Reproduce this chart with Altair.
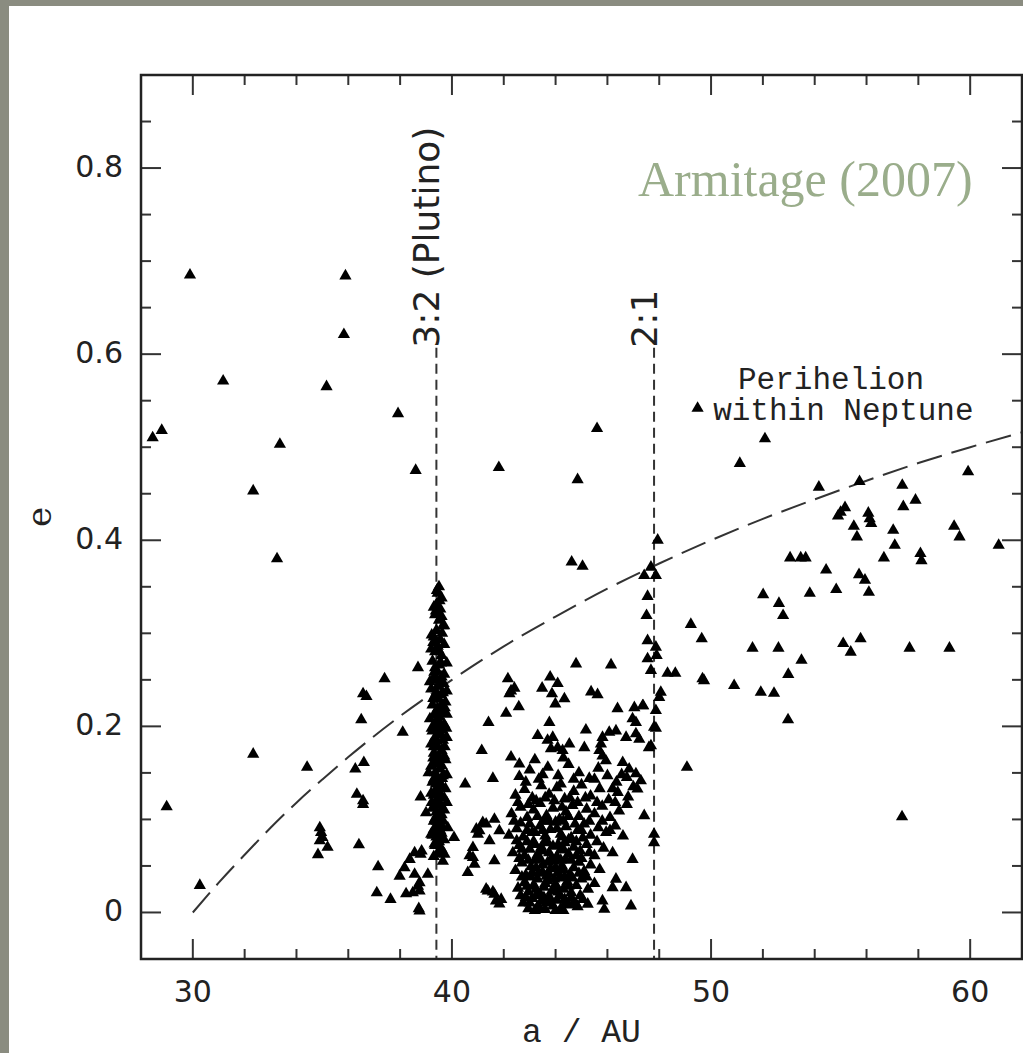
import altair as alt
import pandas as pd

# ---------------- data ----------------
X_DOMAIN = [28, 62]
Y_DOMAIN = [-0.05, 0.9]

x_major = [30, 40, 50, 60]
x_minor = [32, 34, 36, 38, 42, 44, 46, 48, 52, 54, 56, 58]
y_major = [0, 0.2, 0.4, 0.6, 0.8]
y_major_text = ["0", "0.2", "0.4", "0.6", "0.8"]
y_minor = [0.05, 0.1, 0.15, 0.25, 0.3, 0.35, 0.45, 0.5, 0.55, 0.65, 0.7, 0.75, 0.85]

# perihelion = Neptune's orbit curve
curve_a = [30, 31, 32, 33, 34, 35, 36, 38, 40, 42, 44, 46, 48, 50, 52, 54, 56, 58, 60, 62]
curve_e = [0.0, 0.032, 0.062, 0.091, 0.118, 0.143, 0.167, 0.211, 0.25, 0.286, 0.318,
           0.348, 0.375, 0.4, 0.423, 0.444, 0.464, 0.483, 0.5, 0.516]

resonance_a = [39.4, 47.8]
resonance_top = [0.607, 0.607]
resonance_label = ["3:2 (Plutino)", "2:1"]

scattered = [
    (29.89, 0.687), (35.89, 0.686), (35.83, 0.623), (31.17, 0.573), (35.16, 0.567), (37.92, 0.538),
    (28.45, 0.512), (28.8, 0.520), (33.36, 0.505), (38.6, 0.477), (32.33, 0.455), (33.25, 0.382),
    (38.69, 0.265), (37.4, 0.253), (36.57, 0.237), (36.7, 0.234), (36.5, 0.209),
    (28.99, 0.1155), (30.27, 0.031), (32.33, 0.172), (34.41, 0.158),
    (34.9, 0.093), (34.95, 0.088), (35.0, 0.0825), (34.9, 0.079), (35.2, 0.072), (34.83, 0.064),
    (36.41, 0.0746), (36.27, 0.156), (36.6, 0.163), (36.33, 0.129), (36.57, 0.122), (36.57, 0.118),
    (38.1, 0.1955), (37.15, 0.051), (37.1, 0.023), (37.63, 0.016),
    (37.98, 0.041), (38.17, 0.050), (38.37, 0.059), (38.56, 0.066), (38.79, 0.0646), (38.83, 0.068),
    (38.56, 0.043), (38.75, 0.034), (39.07, 0.043), (38.69, 0.030), (38.23, 0.022), (38.49, 0.023),
    (38.75, 0.0036), (38.72, 0.006), (38.75, 0.025),
    (38.79, 0.126), (39.0, 0.109), (39.1, 0.152),
    (39.52, 0.068), (39.71, 0.0646), (39.65, 0.057), (39.33, 0.0754), (39.2, 0.086), (39.58, 0.0825), (39.84, 0.093),
    (40.08, 0.0825), (40.51, 0.14), (41.41, 0.206), (41.15, 0.176), (41.58, 0.146),
    (41.06, 0.0897), (41.32, 0.097), (41.64, 0.102), (40.94, 0.0915), (40.81, 0.0717), (40.68, 0.0628),
    (40.87, 0.0538), (40.61, 0.0448), (41.38, 0.025), (41.64, 0.0215), (41.7, 0.0143), (41.19, 0.0986),
    (41.0, 0.086), (41.45, 0.079), (41.64, 0.0575), (40.81, 0.061), (41.83, 0.0897), (41.32, 0.027),
    (41.58, 0.024), (41.9, 0.016), (41.83, 0.011),
    (44.79, 0.269), (46.14, 0.268), (42.16, 0.253), (43.79, 0.255), (44.08, 0.248), (43.48, 0.243),
    (42.28, 0.240), (42.41, 0.243), (42.22, 0.237), (43.86, 0.237), (44.34, 0.2315), (43.99, 0.226),
    (45.37, 0.239), (45.62, 0.236), (42.58, 0.223), (42.09, 0.216), (43.76, 0.206), (45.17, 0.198),
    (43.31, 0.192), (43.69, 0.187), (43.89, 0.190), (44.08, 0.179), (44.53, 0.183), (43.82, 0.178),
    (44.27, 0.176), (42.28, 0.169), (42.6, 0.1615), (45.11, 0.179), (46.39, 0.221), (47.04, 0.222),
    (47.36, 0.224), (46.97, 0.21), (47.1, 0.206), (45.81, 0.190), (46.07, 0.1955), (46.33, 0.197),
    (46.72, 0.190), (47.1, 0.194), (47.23, 0.188), (45.75, 0.183), (45.69, 0.176), (45.81, 0.170),
    (45.94, 0.165), (46.59, 0.163), (46.84, 0.156), (47.1, 0.151), (47.29, 0.1435), (47.16, 0.1346),
    (47.42, 0.106), (46.97, 0.059), (46.72, 0.0286), (46.33, 0.0377), (46.2, 0.0286), (45.81, 0.0143),
    (45.88, 0.0054), (46.91, 0.009), (45.24, 0.0108), (44.79, 0.0108),
    (49.48, 0.5437), (45.6, 0.522), (41.81, 0.480), (44.85, 0.467), (44.62, 0.3785), (45.04, 0.374),
]

twoone = [
    (47.94, 0.402), (47.68, 0.373), (47.42, 0.364), (47.87, 0.364), (47.55, 0.3416), (47.51, 0.321),
    (47.55, 0.294), (47.87, 0.287), (47.9, 0.278), (47.55, 0.2745), (47.68, 0.262), (48.06, 0.2386),
    (48.0, 0.233), (47.38, 0.224), (47.87, 0.219), (47.8, 0.201), (47.68, 0.181), (47.6, 0.179),
    (47.8, 0.086), (47.8, 0.077), (47.87, 0.2),
]

outer = [
    (52.08, 0.511), (51.11, 0.4845), (54.16, 0.459), (55.73, 0.465), (57.38, 0.461), (59.92, 0.4755),
    (57.89, 0.445), (57.42, 0.438), (55.17, 0.437), (55.0, 0.432), (54.9, 0.428), (56.07, 0.431),
    (56.12, 0.425), (56.18, 0.42), (55.51, 0.417), (55.63, 0.4055), (57.03, 0.4127), (57.09, 0.3965),
    (59.38, 0.417), (59.59, 0.4055), (61.1, 0.3965), (56.67, 0.383), (58.08, 0.3876), (58.12, 0.380),
    (53.05, 0.383), (53.46, 0.383), (53.65, 0.383), (54.44, 0.370), (55.71, 0.365), (55.94, 0.359),
    (53.81, 0.345), (54.83, 0.349), (56.09, 0.346), (52.01, 0.3435), (52.62, 0.334), (52.78, 0.321),
    (49.22, 0.3115), (49.64, 0.296), (51.6, 0.286), (52.6, 0.286), (55.1, 0.291), (55.39, 0.2817),
    (55.77, 0.296), (57.66, 0.286), (59.2, 0.286), (53.49, 0.273), (52.98, 0.2577), (48.32, 0.259),
    (48.62, 0.259), (49.67, 0.253), (49.73, 0.251), (50.89, 0.2458), (51.92, 0.2386), (52.43, 0.2375),
    (52.97, 0.209), (49.07, 0.158), (57.37, 0.1048),
]

plutinos = [
    (39.5, 0.352), (39.45, 0.345), (39.6, 0.34), (39.4, 0.333), (39.55, 0.328), (39.35, 0.322),
    (39.5, 0.316), (39.65, 0.31), (39.4, 0.305), (39.3, 0.298), (39.55, 0.295), (39.45, 0.288),
    (39.35, 0.282), (39.6, 0.278), (39.25, 0.272), (39.5, 0.268), (39.4, 0.262), (39.7, 0.258),
    (39.3, 0.254), (39.55, 0.25), (39.45, 0.245), (39.2, 0.242), (39.65, 0.238), (39.35, 0.235),
    (39.5, 0.231), (39.75, 0.228), (39.25, 0.225), (39.45, 0.221), (39.6, 0.218), (39.3, 0.214),
    (39.15, 0.21), (39.5, 0.207), (39.7, 0.204), (39.4, 0.2), (39.25, 0.197), (39.55, 0.193),
    (39.35, 0.19), (39.65, 0.187), (39.2, 0.183), (39.45, 0.18), (39.6, 0.176), (39.3, 0.173),
    (39.5, 0.169), (39.75, 0.166), (39.4, 0.162), (39.2, 0.159), (39.55, 0.156), (39.35, 0.152),
    (39.65, 0.149), (39.45, 0.145), (39.25, 0.142), (39.6, 0.138), (39.4, 0.135), (39.5, 0.131),
    (39.3, 0.128), (39.7, 0.125), (39.45, 0.121), (39.55, 0.118), (39.25, 0.114), (39.4, 0.11),
    (39.6, 0.107), (39.35, 0.103), (39.5, 0.099), (39.45, 0.095), (39.3, 0.091), (39.6, 0.087),
    (39.4, 0.083), (39.5, 0.078), (39.35, 0.074), (39.55, 0.07),
    (39.3, 0.33), (39.6, 0.32), (39.7, 0.29), (39.2, 0.285), (39.8, 0.27), (39.35, 0.265),
    (39.6, 0.255), (39.15, 0.25), (39.8, 0.24), (39.4, 0.238), (39.6, 0.225), (39.8, 0.215),
    (39.35, 0.205), (39.55, 0.195), (39.8, 0.19), (39.3, 0.18), (39.7, 0.17), (39.35, 0.165),
    (39.6, 0.16), (39.8, 0.15), (39.3, 0.145), (39.55, 0.14), (39.75, 0.135), (39.2, 0.13),
    (39.6, 0.125), (39.35, 0.118), (39.7, 0.112), (39.5, 0.106), (39.3, 0.1), (39.6, 0.095),
    (39.7, 0.08), (39.25, 0.085), (39.6, 0.07),
    (39.42, 0.348), (39.52, 0.337), (39.38, 0.326), (39.62, 0.302), (39.28, 0.292), (39.48, 0.284),
    (39.58, 0.27), (39.32, 0.26), (39.68, 0.248), (39.42, 0.252), (39.28, 0.232), (39.58, 0.236),
    (39.72, 0.222), (39.38, 0.216), (39.52, 0.212), (39.22, 0.2), (39.62, 0.198), (39.42, 0.186),
    (39.72, 0.18), (39.28, 0.168), (39.52, 0.162), (39.62, 0.146), (39.38, 0.14), (39.22, 0.12),
    (39.48, 0.126), (39.62, 0.114), (39.42, 0.1), (39.55, 0.09), (39.38, 0.09), (39.45, 0.065),
    (39.3, 0.062), (39.66, 0.1), (39.8, 0.12), (39.78, 0.2), (39.22, 0.3), (39.7, 0.31),
]

classical = [
    (42.75, 0.012), (42.95, 0.006), (43.1, 0.017), (43.3, 0.008), (43.45, 0.014), (43.6, 0.005),
    (43.75, 0.019), (43.9, 0.009), (44.05, 0.015), (44.2, 0.006), (44.4, 0.012), (44.6, 0.018),
    (44.85, 0.008), (45.05, 0.016), (43.2, 0.004), (44.3, 0.004),
    (42.55, 0.028), (42.8, 0.034), (42.95, 0.024), (43.15, 0.031), (43.3, 0.038), (43.4, 0.022),
    (43.55, 0.029), (43.7, 0.036), (43.85, 0.025), (44.0, 0.032), (44.15, 0.039), (44.3, 0.027),
    (44.45, 0.035), (44.6, 0.023), (44.8, 0.031), (45.0, 0.038), (45.25, 0.027), (45.5, 0.033),
    (42.45, 0.047), (42.7, 0.055), (42.85, 0.042), (43.05, 0.051), (43.2, 0.058), (43.35, 0.044),
    (43.5, 0.053), (43.65, 0.041), (43.8, 0.049), (43.95, 0.057), (44.1, 0.045), (44.25, 0.052),
    (44.4, 0.059), (44.55, 0.043), (44.7, 0.05), (44.9, 0.056), (45.1, 0.046), (45.35, 0.053),
    (45.7, 0.048),
    (42.35, 0.066), (42.6, 0.074), (42.8, 0.063), (43.0, 0.07), (43.15, 0.078), (43.3, 0.064),
    (43.45, 0.072), (43.6, 0.079), (43.75, 0.066), (43.9, 0.073), (44.05, 0.062), (44.2, 0.069),
    (44.35, 0.077), (44.5, 0.065), (44.7, 0.072), (44.95, 0.068), (45.2, 0.075), (45.5, 0.063),
    (45.85, 0.071), (46.2, 0.066),
    (42.2, 0.085), (42.5, 0.092), (42.75, 0.083), (43.0, 0.097), (43.2, 0.088), (43.4, 0.095),
    (43.6, 0.084), (43.8, 0.091), (44.0, 0.099), (44.2, 0.086), (44.4, 0.094), (44.6, 0.082),
    (44.85, 0.09), (45.1, 0.097), (45.35, 0.085), (45.65, 0.093), (45.95, 0.088), (46.3, 0.095),
    (46.6, 0.084),
    (42.3, 0.108), (42.65, 0.115), (42.9, 0.104), (43.15, 0.112), (43.4, 0.119), (43.65, 0.106),
    (43.9, 0.114), (44.15, 0.102), (44.4, 0.11), (44.65, 0.117), (44.9, 0.105), (45.2, 0.113),
    (45.5, 0.108), (45.8, 0.116), (46.1, 0.104), (46.45, 0.111), (46.75, 0.118),
    (42.45, 0.128), (42.8, 0.134), (43.1, 0.125), (43.45, 0.138), (43.75, 0.129), (44.05, 0.136),
    (44.35, 0.124), (44.7, 0.132), (45.0, 0.139), (45.35, 0.127), (45.7, 0.135), (46.05, 0.123),
    (46.4, 0.131), (46.8, 0.126), (47.0, 0.137),
    (42.6, 0.148), (43.0, 0.155), (43.35, 0.145), (43.7, 0.158), (44.1, 0.149), (44.5, 0.161),
    (44.9, 0.152), (45.3, 0.146), (45.65, 0.157), (46.0, 0.149), (46.35, 0.142), (46.75, 0.147),
    (43.2, 0.166), (44.3, 0.168),
    (43.25, 0.02), (43.65, 0.012), (44.1, 0.024), (43.5, 0.045), (43.85, 0.06), (44.3, 0.048),
    (43.1, 0.088), (43.55, 0.1), (44.25, 0.083), (43.05, 0.04), (42.65, 0.02), (44.5, 0.01),
    (42.85, 0.018), (43.0, 0.012), (43.4, 0.006), (43.55, 0.018), (43.8, 0.013), (44.0, 0.004),
    (44.15, 0.02), (44.35, 0.016), (44.7, 0.013), (44.95, 0.02),
    (42.7, 0.04), (42.9, 0.03), (43.1, 0.045), (43.25, 0.027), (43.6, 0.033), (43.75, 0.043),
    (43.95, 0.038), (44.05, 0.028), (44.35, 0.04), (44.5, 0.03), (44.65, 0.039), (44.9, 0.044),
    (45.2, 0.04),
    (42.6, 0.06), (42.95, 0.058), (43.25, 0.05), (43.4, 0.06), (43.7, 0.056), (44.0, 0.05),
    (44.2, 0.058), (44.6, 0.058), (44.8, 0.063), (45.0, 0.06), (45.3, 0.066),
    (42.5, 0.079), (42.7, 0.07), (42.9, 0.078), (43.2, 0.075), (43.5, 0.068), (43.7, 0.077),
    (44.1, 0.075), (44.3, 0.07), (44.5, 0.08), (44.8, 0.078), (45.05, 0.082), (45.6, 0.078),
    (42.4, 0.1), (42.65, 0.098), (42.9, 0.09), (43.3, 0.105), (43.5, 0.09), (43.75, 0.1),
    (44.05, 0.092), (44.3, 0.1), (44.5, 0.105), (44.75, 0.097), (45.0, 0.09), (45.3, 0.1),
    (45.8, 0.1), (46.1, 0.09),
    (42.55, 0.12), (42.95, 0.118), (43.25, 0.122), (43.6, 0.125), (43.95, 0.122), (44.25, 0.115),
    (44.55, 0.125), (44.85, 0.12), (45.15, 0.125), (45.6, 0.12), (46.3, 0.12),
    (42.85, 0.142), (43.5, 0.15), (44.2, 0.14), (44.7, 0.145), (45.5, 0.145), (46.2, 0.135),
    (46.55, 0.15),
]

annotations = [
    ("Perihelion", 51.04, 0.563),
    ("within Neptune", 50.08, 0.529),
]
credit = [("Armitage (2007)", 47.18, 0.770)]

# ---------------- chart ----------------
W, H = 881, 884
xs = alt.Scale(domain=X_DOMAIN, nice=False, zero=False)
ys = alt.Scale(domain=Y_DOMAIN, nice=False, zero=False)
INK = "#222222"
GREY = "#8a8c80"

pts = pd.DataFrame(scattered + twoone + outer + plutinos + classical, columns=["a", "e"])
curve = pd.DataFrame({"a": curve_a, "e": curve_e})
res = pd.DataFrame({"a": resonance_a, "top": resonance_top,
                    "bottom": [Y_DOMAIN[0]] * len(resonance_a), "label": resonance_label})
ann = pd.DataFrame(annotations, columns=["text", "a", "e"])
cred = pd.DataFrame(credit, columns=["text", "a", "e"])
xlab = pd.DataFrame({"v": x_major, "t": [str(v) for v in x_major]})
ylab = pd.DataFrame({"v": y_major, "t": y_major_text})
one = pd.DataFrame({"k": [0]})

# grey slide border (left and top strips)
strip_left = alt.Chart(one).mark_rect(color=GREY).encode(
    x=alt.value(-141), x2=alt.value(-132), y=alt.value(-75), y2=alt.value(H + 100)
)
strip_top = alt.Chart(one).mark_rect(color=GREY).encode(
    x=alt.value(-141), x2=alt.value(W + 10), y=alt.value(-75), y2=alt.value(-69)
)

def tick_layer(vals, channel, side, length):
    df = pd.DataFrame({"v": vals})
    if channel == "x":
        enc = dict(x=alt.X("v:Q", scale=xs, axis=None))
        if side == "bottom":
            enc.update(y=alt.value(H), y2=alt.value(H - length))
        else:
            enc.update(y=alt.value(0), y2=alt.value(length))
    else:
        enc = dict(y=alt.Y("v:Q", scale=ys, axis=None))
        if side == "left":
            enc.update(x=alt.value(0), x2=alt.value(length))
        else:
            enc.update(x=alt.value(W), x2=alt.value(W - length))
    return alt.Chart(df).mark_rule(color="#333333", strokeWidth=2).encode(**enc)

ticks = []
for side in ["bottom", "top"]:
    ticks.append(tick_layer(x_major, "x", side, 20))
    ticks.append(tick_layer(x_minor, "x", side, 10))
for side in ["left", "right"]:
    ticks.append(tick_layer(y_major, "y", side, 20))
    ticks.append(tick_layer(y_minor, "y", side, 10))

# tick labels and axis titles
x_labels = alt.Chart(xlab).mark_text(
    align="center", baseline="alphabetic", font="DejaVu Sans", fontSize=30, color=INK
).encode(x=alt.X("v:Q", scale=xs, axis=None), y=alt.value(H + 43), text="t:N")
y_labels = alt.Chart(ylab).mark_text(
    align="right", baseline="middle", font="DejaVu Sans", fontSize=30, color=INK
).encode(y=alt.Y("v:Q", scale=ys, axis=None), x=alt.value(-18), text="t:N")
x_title = alt.Chart(pd.DataFrame({"t": ["a / AU"]})).mark_text(
    align="center", baseline="alphabetic", font="Liberation Mono", fontSize=33, color=INK
).encode(x=alt.value(W / 2), y=alt.value(H + 83), text="t:N")
y_title = alt.Chart(pd.DataFrame({"t": ["e"]})).mark_text(
    align="center", baseline="middle", angle=270, font="DejaVu Serif", fontSize=34, color=INK
).encode(x=alt.value(-100), y=alt.value(H / 2), text="t:N")

res_rules = alt.Chart(res).mark_rule(color="#333333", strokeWidth=2, strokeDash=[10, 6]).encode(
    x=alt.X("a:Q", scale=xs, axis=None),
    y=alt.Y("top:Q", scale=ys, axis=None),
    y2="bottom:Q",
)

res_text = alt.Chart(res).mark_text(
    angle=270, align="left", baseline="alphabetic", dy=3,
    font="DejaVu Sans", fontSize=36, color=INK,
).encode(
    x=alt.X("a:Q", scale=xs, axis=None),
    y=alt.Y("top:Q", scale=ys, axis=None),
    text="label:N",
)

curve_line = alt.Chart(curve).mark_line(
    color="#333333", strokeWidth=2, strokeDash=[26, 10], interpolate="monotone"
).encode(
    x=alt.X("a:Q", scale=xs, axis=None),
    y=alt.Y("e:Q", scale=ys, axis=None),
)

points = alt.Chart(pts).mark_point(
    shape="triangle-up", filled=True, size=150, color="black", opacity=1, strokeWidth=0
).encode(
    x=alt.X("a:Q", scale=xs, axis=None),
    y=alt.Y("e:Q", scale=ys, axis=None),
)

ann_text = alt.Chart(ann).mark_text(
    align="left", baseline="alphabetic", font="Liberation Mono", fontSize=31, color=INK
).encode(
    x=alt.X("a:Q", scale=xs, axis=None),
    y=alt.Y("e:Q", scale=ys, axis=None),
    text="text:N",
)

cred_text = alt.Chart(cred).mark_text(
    align="left", baseline="alphabetic", font="Liberation Serif", fontSize=50, color="#9aad8b"
).encode(
    x=alt.X("a:Q", scale=xs, axis=None),
    y=alt.Y("e:Q", scale=ys, axis=None),
    text="text:N",
)

frame = alt.Chart(one).mark_rect(filled=False, stroke="#222222", strokeWidth=2.5).encode(
    x=alt.value(0), x2=alt.value(W), y=alt.value(0), y2=alt.value(H)
)

chart = alt.layer(
    strip_left, strip_top, *ticks, res_rules, curve_line, points, res_text, ann_text, cred_text,
    x_labels, y_labels, x_title, y_title, frame
).properties(
    width=W, height=H,
    autosize=alt.AutoSizeParams(type="none"),
    padding={"left": 141, "top": 75, "right": 1, "bottom": 94},
).configure(
    background="white",
).configure_view(stroke=None)

chart.save("out.html", embed_options={"renderer": "svg", "actions": False})
